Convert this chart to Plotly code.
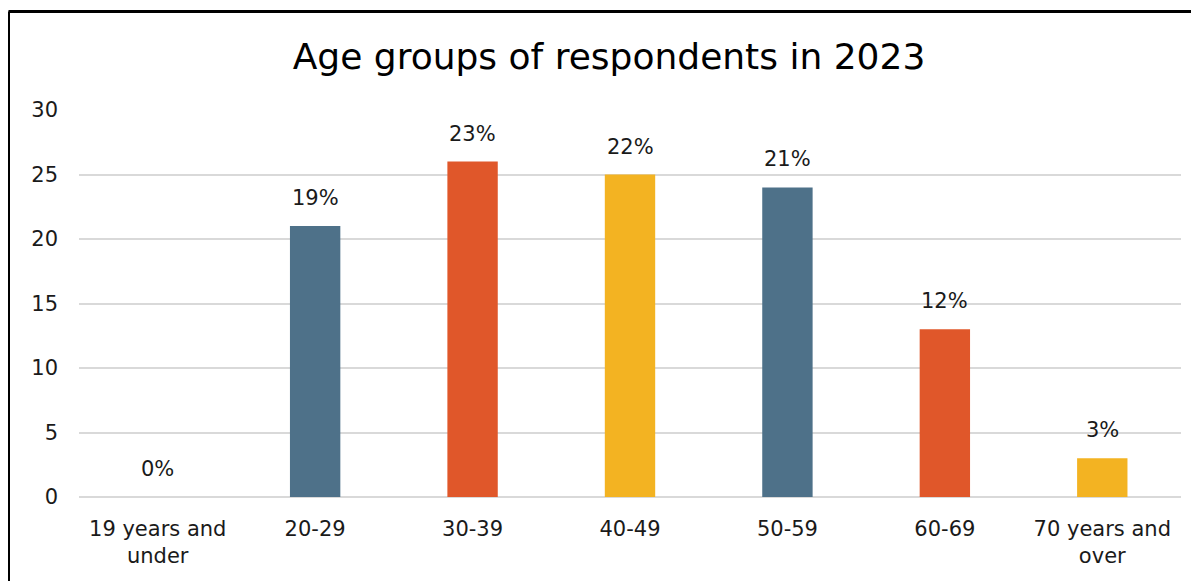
import plotly.graph_objects as go

categories = ["19 years and<br>under", "20-29", "30-39", "40-49", "50-59", "60-69", "70 years and<br>over"]
values = [0, 21, 26, 25, 24, 13, 3]
labels = ["0%", "19%", "23%", "22%", "21%", "12%", "3%"]
colors = ["#4E7189", "#4E7189", "#E0572A", "#F3B322", "#4E7189", "#E0572A", "#F3B322"]
y_ticks = [0, 5, 10, 15, 20, 25, 30]

W, H = 1199, 581
OFF = 8  # page body margin offset
L, R, T, B = 79 - OFF, 26, 110 - OFF, 92
pw, ph = W - L - R, H - T - B

font_family = "DejaVu Sans, sans-serif"

fig = go.Figure()
fig.add_trace(go.Bar(
    x=categories, y=values, marker=dict(color=colors, line=dict(width=0)),
    width=0.32, hoverinfo="skip",
))

for c, v, t in zip(categories, values, labels):
    fig.add_annotation(x=c, y=v, text=t, showarrow=False, yanchor="bottom",
                       yshift=14, font=dict(size=21, color="#1a1a1a", family=font_family))

def px_x(p):
    return (p - OFF - L) / pw

def px_y(p):
    return (H - B - (p - OFF)) / ph

fig.add_shape(type="line", xref="paper", yref="paper",
              x0=px_x(8.5), x1=px_x(W + 20), y0=px_y(11.5), y1=px_y(11.5),
              line=dict(color="#000000", width=3))
fig.add_shape(type="line", xref="paper", yref="paper",
              x0=px_x(8.5), x1=px_x(8.5), y0=px_y(11.5), y1=px_y(H + 20),
              line=dict(color="#000000", width=3))

fig.update_layout(
    width=W, height=H,
    margin=dict(l=L, r=R, t=T, b=B, autoexpand=False),
    paper_bgcolor="white", plot_bgcolor="white",
    showlegend=False,
    title=dict(text="Age groups of respondents in 2023", x=(609 - OFF) / W, xanchor="center",
               y=1 - (56 - OFF) / H, yanchor="middle",
               font=dict(size=36, color="#000000", family=font_family)),
    font=dict(family=font_family, color="#1a1a1a"),
)
fig.update_xaxes(showgrid=False, showline=False, ticks="", tickfont=dict(size=21),
                 ticklabelstandoff=17)
fig.update_yaxes(range=[0, 30], tickvals=y_ticks, showgrid=True, gridcolor="#D9D9D9",
                 gridwidth=2, zeroline=True, zerolinecolor="#D9D9D9", zerolinewidth=2,
                 showline=False, ticks="", tickfont=dict(size=21), ticklabelstandoff=20)

fig.write_html("out.html")
